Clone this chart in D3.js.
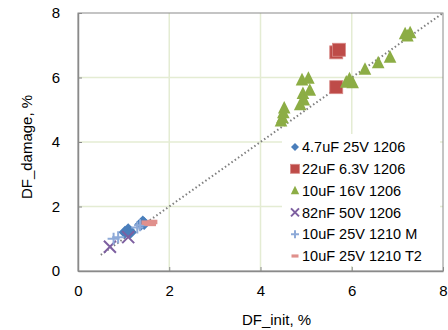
<!DOCTYPE html>
<html>
<head>
<meta charset="utf-8">
<script src="https://cdn.jsdelivr.net/npm/d3@7"></script>
<style>
  body { margin: 0; background: #fff; }
  svg { font-family: "Liberation Sans", Arial, sans-serif; }
</style>
</head>
<body>
<svg id="chart" width="448" height="330"></svg>
<script>
// series: [DF_init, DF_damage]
const cap47uF = [[1.03, 1.2], [1.1, 1.28], [1.15, 1.2], [1.38, 1.45], [1.42, 1.52], [1.45, 1.47]];
const cap22uF = [[5.66, 6.78], [5.72, 6.86], [5.66, 5.7]];
const cap10uF16V = [[4.45, 4.65], [4.48, 4.75], [4.5, 4.9], [4.52, 5.05],
  [4.87, 5.15], [4.95, 5.3], [4.93, 5.5], [5.08, 5.6], [4.91, 5.92], [5.05, 5.97],
  [5.88, 5.85], [5.95, 5.95], [6.02, 5.83], [6.29, 6.25], [6.58, 6.45], [6.84, 6.62],
  [7.17, 7.35], [7.28, 7.38], [7.22, 7.28]];
const cap82nF = [[0.7, 0.75], [1.1, 1.05]];
const cap10uF1210M = [[0.78, 1.0], [0.88, 1.05], [1.3, 1.35], [1.36, 1.42]];
const cap10uF1210T2 = [[1.5, 1.5], [1.56, 1.47], [1.63, 1.52], [1.6, 1.46]];

const seriesNames = ["4.7uF 25V 1206", "22uF 6.3V 1206", "10uF 16V 1206",
  "82nF 50V 1206", "10uF 25V 1210 M", "10uF 25V 1210 T2"];
const seriesData = [cap47uF, cap22uF, cap10uF16V, cap82nF, cap10uF1210M, cap10uF1210T2];
const seriesColors = ["#4a7ebb", "#be4b48", "#8cad45", "#7d5fa0", "#8eaad8", "#e0908c"];
const seriesShapes = ["diamond", "square", "triangle", "x", "plus", "dash"];
const ticks = [0, 2, 4, 6, 8];
const trend = [0.5, 8];

const svg = d3.select("#chart");
const plotL = 78, plotR = 443, plotT = 13, plotB = 271;
const x = d3.scaleLinear().domain([0, 8]).range([plotL, plotR]);
const y = d3.scaleLinear().domain([0, 8]).range([plotB, plotT]);

// gridlines
svg.append("g").selectAll("line").data(ticks.slice(1, -1)).join("line")
  .attr("x1", d => x(d)).attr("x2", d => x(d)).attr("y1", plotT).attr("y2", plotB)
  .attr("stroke", "#e4ecd3").attr("stroke-width", 1.5);
svg.append("g").selectAll("line").data(ticks.slice(1, -1)).join("line")
  .attr("y1", d => y(d)).attr("y2", d => y(d)).attr("x1", plotL).attr("x2", plotR)
  .attr("stroke", "#e4ecd3").attr("stroke-width", 1.5);

// frame
svg.append("rect").attr("x", plotL).attr("y", plotT)
  .attr("width", plotR - plotL).attr("height", plotB - plotT)
  .attr("fill", "none").attr("stroke", "#8a8a8a").attr("stroke-width", 1);

// axes with inward ticks
const xAxis = svg.append("g").attr("transform", `translate(0,${plotB})`)
  .call(d3.axisBottom(x).tickValues(ticks).tickSizeInner(-4).tickSizeOuter(0).tickPadding(14));
const yAxis = svg.append("g").attr("transform", `translate(${plotL},0)`)
  .call(d3.axisLeft(y).tickValues(ticks).tickSizeInner(-4).tickSizeOuter(0).tickPadding(18));
[xAxis, yAxis].forEach(a => {
  a.select(".domain").attr("stroke", "#8a8a8a").attr("stroke-width", 1.5);
  a.selectAll(".tick line").attr("stroke", "#8a8a8a");
  a.selectAll("text").attr("font-size", 15).attr("fill", "#000")
    .attr("font-family", "Liberation Sans, Arial, sans-serif");
});

// y = x trend line
svg.append("line")
  .attr("x1", x(trend[0])).attr("y1", y(trend[0]))
  .attr("x2", x(trend[1])).attr("y2", y(trend[1]))
  .attr("stroke", "#7f7f7f").attr("stroke-width", 2)
  .attr("stroke-dasharray", "1.5 2.5");

function marker(g, shape, color, s) {
  if (shape === "diamond") {
    g.append("path").attr("d", `M0,${-s}L${s},0L0,${s}L${-s},0Z`).attr("fill", color);
  } else if (shape === "square") {
    g.append("rect").attr("x", -s).attr("y", -s).attr("width", 2 * s).attr("height", 2 * s)
      .attr("fill", color).attr("stroke", "#d88a88").attr("stroke-width", 0.8);
  } else if (shape === "triangle") {
    g.append("path").attr("d", `M0,${-s * 1.15}L${s},${s * 0.85}L${-s},${s * 0.85}Z`).attr("fill", color);
  } else if (shape === "x") {
    g.append("path").attr("d", `M${-s},${-s}L${s},${s}M${s},${-s}L${-s},${s}`)
      .attr("stroke", color).attr("stroke-width", 2);
  } else if (shape === "plus") {
    g.append("path").attr("d", `M${-s},0L${s},0M0,${-s}L0,${s}`)
      .attr("stroke", color).attr("stroke-width", 2);
  } else if (shape === "dash") {
    g.append("rect").attr("x", -s).attr("y", -s * 0.45).attr("width", 2 * s).attr("height", s * 0.9)
      .attr("fill", color);
  }
}

const markSize = { diamond: 6.5, square: 6.5, triangle: 6.3, x: 6, plus: 6, dash: 5 };
const legSize = { diamond: 4, square: 4.5, triangle: 4.2, x: 4, plus: 4, dash: 3.5 };

// later series on top
seriesData.forEach((data, i) => {
  const g = svg.append("g");
  data.forEach(d => {
    const m = g.append("g").attr("transform", `translate(${x(d[0])},${y(d[1])})`);
    marker(m, seriesShapes[i], seriesColors[i], markSize[seriesShapes[i]]);
  });
});

// legend
const legend = svg.append("g");
legend.append("rect").attr("x", 282).attr("y", 134).attr("width", 158).attr("height", 132)
  .attr("fill", "#fff");
seriesNames.forEach((name, i) => {
  const ly = 147 + i * 21.8;
  const m = legend.append("g").attr("transform", `translate(295,${ly})`);
  marker(m, seriesShapes[i], seriesColors[i], legSize[seriesShapes[i]]);
  legend.append("text").attr("x", 302).attr("y", ly).attr("dy", "0.36em")
    .attr("font-size", 14.5).text(name);
});

// axis titles
svg.append("text").attr("x", (plotL + plotR) / 2 + 16).attr("y", 325)
  .attr("text-anchor", "middle").attr("font-size", 15).text("DF_init, %");
svg.append("text").attr("transform", `translate(32,147) rotate(-90)`)
  .attr("text-anchor", "middle").attr("font-size", 15).text("DF_damage, %");
</script>
</body>
</html>
